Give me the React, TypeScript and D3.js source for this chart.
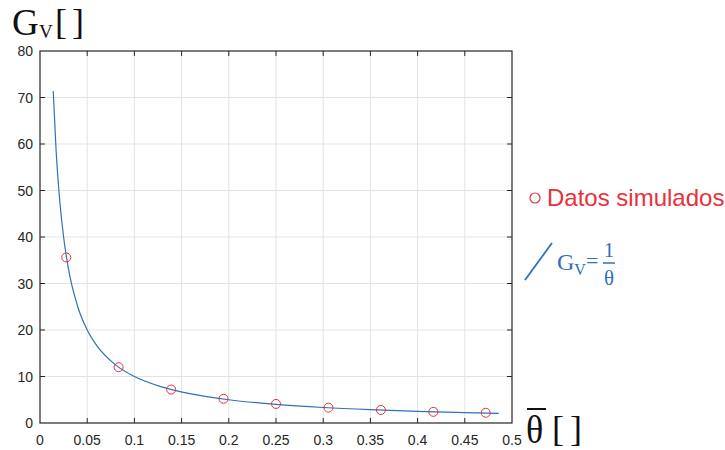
import React from 'react';
import * as d3 from 'd3';

// simulated points (theta, Gv)
const thetaSim = [0.0278, 0.0833, 0.1389, 0.1944, 0.25, 0.3056, 0.3611, 0.4167, 0.4722];
const gvSim = [35.6, 12.0, 7.2, 5.2, 4.1, 3.3, 2.8, 2.4, 2.2];

// fitted curve Gv = 1/theta
const thetaFit = [0.014, 0.017, 0.02, 0.025, 0.03, 0.04, 0.05, 0.06, 0.08, 0.1, 0.13, 0.16, 0.2, 0.25, 0.3, 0.35, 0.4, 0.45, 0.486];
const gvFit = [71.4, 58.8, 50, 40, 33.3, 25, 20, 16.7, 12.5, 10, 7.7, 6.25, 5, 4, 3.33, 2.86, 2.5, 2.22, 2.06];

const xTicks = [0, 0.05, 0.1, 0.15, 0.2, 0.25, 0.3, 0.35, 0.4, 0.45, 0.5];
const yTicks = [0, 10, 20, 30, 40, 50, 60, 70, 80];

const W = 725;
const H = 450;
const left = 40;
const right = 512;
const top = 51;
const bottom = 423;

export default function App() {
  const x = d3.scaleLinear().domain([0, 0.5]).range([left, right]);
  const y = d3.scaleLinear().domain([0, 80]).range([bottom, top]);

  const fitPts: [number, number][] = thetaFit.map((t, i) => [t, gvFit[i]]);
  const line = d3
    .line<[number, number]>()
    .x(d => x(d[0]))
    .y(d => y(d[1]))
    .curve(d3.curveMonotoneX);

  const tickFont = '"Liberation Sans", Arial, sans-serif';
  const serif = '"Liberation Serif", "Times New Roman", serif';
  const blue = '#2e72b8';
  const red = '#e8313a';

  return (
    <svg
      width={W}
      height={H}
      style={{ position: 'absolute', left: 0, top: 0, background: '#fff' }}
    >
      {/* grid */}
      {xTicks.slice(1, -1).map(t => (
        <line key={'gx' + t} x1={x(t)} x2={x(t)} y1={top} y2={bottom} stroke="#e3e3e3" strokeWidth={1} />
      ))}
      {yTicks.slice(1, -1).map(t => (
        <line key={'gy' + t} x1={left} x2={right} y1={y(t)} y2={y(t)} stroke="#e3e3e3" strokeWidth={1} />
      ))}

      {/* inward ticks on all sides */}
      {xTicks.slice(1, -1).map(t => (
        <g key={'tx' + t} stroke="#262626" strokeWidth={1}>
          <line x1={x(t)} x2={x(t)} y1={bottom} y2={bottom - 5} />
          <line x1={x(t)} x2={x(t)} y1={top} y2={top + 5} />
        </g>
      ))}
      {yTicks.slice(1, -1).map(t => (
        <g key={'ty' + t} stroke="#262626" strokeWidth={1}>
          <line x1={left} x2={left + 5} y1={y(t)} y2={y(t)} />
          <line x1={right} x2={right - 5} y1={y(t)} y2={y(t)} />
        </g>
      ))}

      {/* fitted curve */}
      <path d={line(fitPts) || ''} fill="none" stroke={blue} strokeWidth={1.2} />

      {/* simulated points */}
      {thetaSim.map((t, i) => (
        <circle key={'p' + i} cx={x(t)} cy={y(gvSim[i])} r={4.5} fill="none" stroke={red} strokeWidth={1} />
      ))}

      {/* box */}
      <rect x={left} y={top} width={right - left} height={bottom - top} fill="none" stroke="#262626" strokeWidth={1.2} />

      {/* tick labels */}
      {xTicks.map(t => (
        <text key={'lx' + t} x={x(t)} y={445} textAnchor="middle" fontFamily={tickFont} fontSize={14} fill="#262626">
          {String(t)}
        </text>
      ))}
      {yTicks.map(t => (
        <text key={'ly' + t} x={33} y={y(t) + 5} textAnchor="end" fontFamily={tickFont} fontSize={14} fill="#262626">
          {String(t)}
        </text>
      ))}

      {/* y axis title */}
      <g fontFamily={serif} fill="#111">
        <text x={12} y={35} fontSize={37}>G</text>
        <text x={39} y={38} fontSize={19}>V</text>
        <text x={55} y={34} fontSize={36}>[</text>
        <text x={72} y={34} fontSize={36}>]</text>
      </g>

      {/* x axis title */}
      <g fontFamily={serif} fill="#111">
        <line x1={527} x2={546} y1={409} y2={409} stroke="#111" strokeWidth={2} />
        <text x={526} y={443} fontSize={36} transform="translate(526,443) scale(1,1.1) translate(-526,-443)">θ</text>
        <text x={552} y={441} fontSize={36}>[</text>
        <text x={570} y={441} fontSize={36}>]</text>
      </g>

      {/* legend */}
      <circle cx={535} cy={198} r={5} fill="none" stroke={red} strokeWidth={1.2} />
      <text x={547} y={206} fontFamily={tickFont} fontSize={24} fill={red}>
        Datos simulados
      </text>

      <line x1={525} x2={552} y1={280} y2={243} stroke={blue} strokeWidth={1.8} />
      <g fontFamily={serif} fill={blue}>
        <text x={557} y={270} fontSize={24}>
          G
          <tspan fontSize={16} dy={5}>V</tspan>
          <tspan fontSize={22} dy={-7}>=</tspan>
        </text>
        <text x={609} y={257} fontSize={21} textAnchor="middle">1</text>
        <line x1={603} x2={615} y1={263} y2={263} stroke={blue} strokeWidth={1.5} />
        <text x={609} y={285} fontSize={21} textAnchor="middle">θ</text>
      </g>
    </svg>
  );
}
